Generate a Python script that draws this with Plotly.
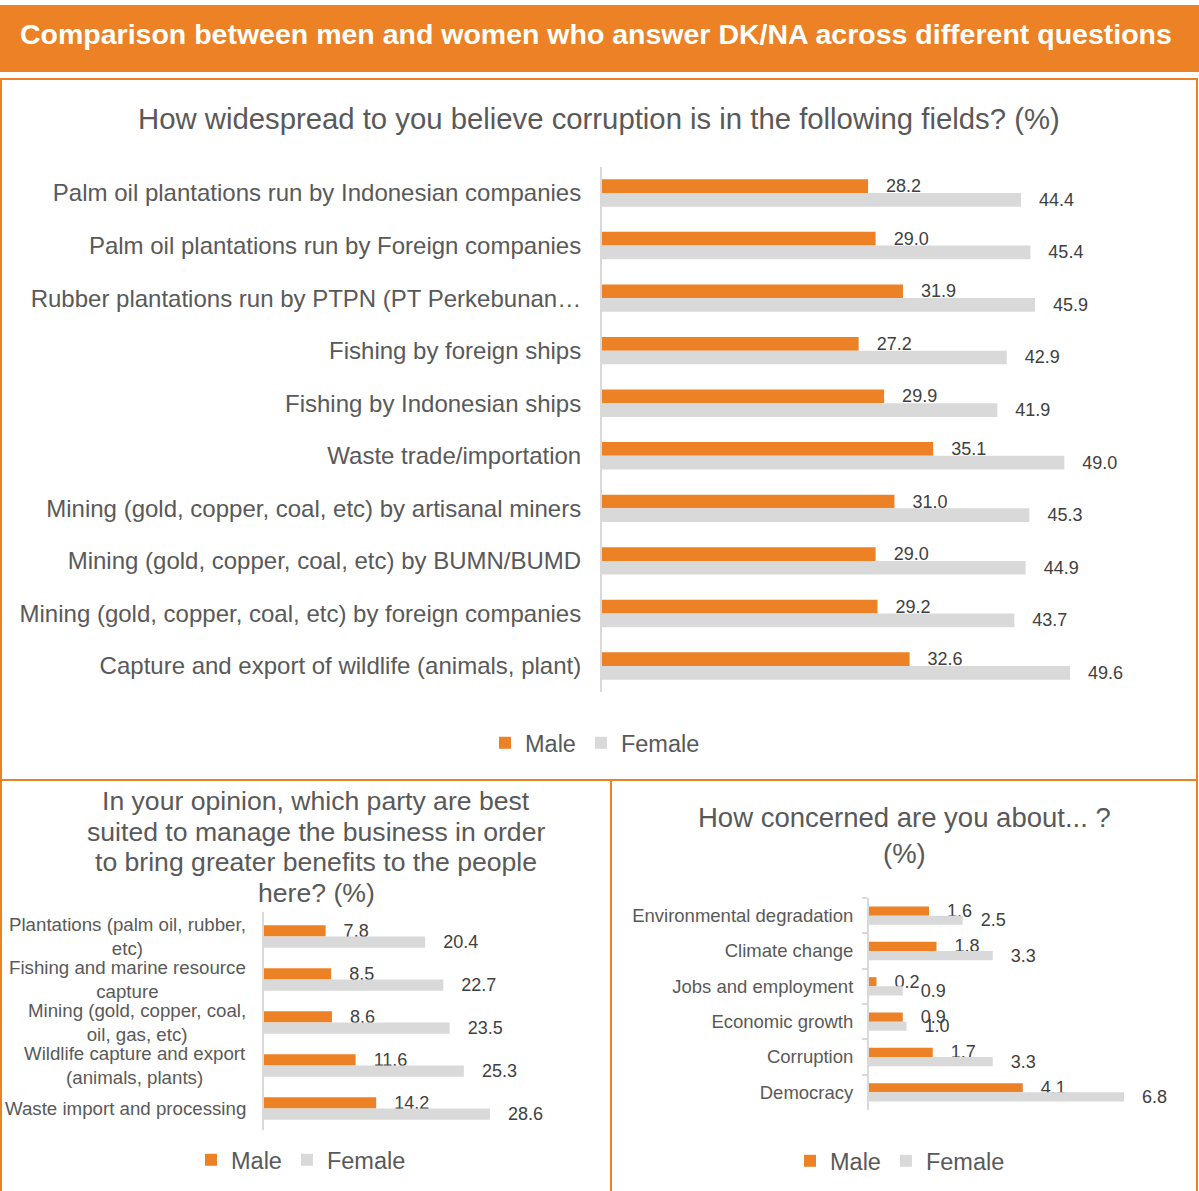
import plotly.graph_objects as go

W, H = 1199, 1191
ORANGE = "#EC8225"
GREY = "#D9D9D9"
TXT = "#595959"
VAL = "#404040"
FONT = "Liberation Sans, Arial, sans-serif"

# ---------------- data ----------------
q1_categories = [
    "Palm oil plantations run by Indonesian companies",
    "Palm oil plantations run by Foreign companies",
    "Rubber plantations run by PTPN (PT Perkebunan\u2026",
    "Fishing by foreign ships",
    "Fishing by Indonesian ships",
    "Waste trade/importation",
    "Mining (gold, copper, coal, etc) by artisanal miners",
    "Mining (gold, copper, coal, etc) by BUMN/BUMD",
    "Mining (gold, copper, coal, etc) by foreign companies",
    "Capture and export of wildlife (animals, plant)",
]
q1_male = [28.2, 29.0, 31.9, 27.2, 29.9, 35.1, 31.0, 29.0, 29.2, 32.6]
q1_female = [44.4, 45.4, 45.9, 42.9, 41.9, 49.0, 45.3, 44.9, 43.7, 49.6]

q2_categories = [
    "Plantations (palm oil, rubber,<br>etc)",
    "Fishing and marine resource<br>capture",
    "Mining (gold, copper, coal,<br>oil, gas, etc)",
    "Wildlife capture and export<br>(animals, plants)",
    "Waste import and processing",
]
q2_male = [7.8, 8.5, 8.6, 11.6, 14.2]
q2_female = [20.4, 22.7, 23.5, 25.3, 28.6]

q3_categories = [
    "Environmental degradation",
    "Climate change",
    "Jobs and employment",
    "Economic growth",
    "Corruption",
    "Democracy",
]
q3_male = [1.6, 1.8, 0.2, 0.9, 1.7, 4.1]
q3_female = [2.5, 3.3, 0.9, 1.0, 3.3, 6.8]

series_names = ["Male", "Female"]

title_main = "Comparison between men and women who answer DK/NA across different questions"
title_q1 = "How widespread to you believe corruption is in the following fields? (%)"
title_q2_lines = [
    "In your opinion, which party are best",
    "suited to manage the business in order",
    "to bring greater benefits to the people",
    "here? (%)",
]
title_q3 = "How concerned are you about... ?<br>(%)"


def px(x):
    return x / W


def py(y):
    return 1 - y / H


fig = go.Figure()

panels = [
    (q1_categories, q1_male, q1_female, "x", "y", "legend"),
    (q2_categories, q2_male, q2_female, "x2", "y2", "legend2"),
    (q3_categories, q3_male, q3_female, "x3", "y3", "legend3"),
]
for cats, male, female, xa, ya, lg in panels:
    for name, vals, col in [(series_names[0], male, ORANGE), (series_names[1], female, GREY)]:
        fig.add_trace(go.Bar(
            x=vals, y=cats, name=name, orientation="h",
            marker=dict(color=col, line=dict(width=0)),
            xaxis=xa, yaxis=ya, legend=lg,
            texttemplate="\u00a0\u00a0\u00a0%{x:.1f}", textposition="outside",
            textangle=0, constraintext="none", cliponaxis=False,
            textfont=dict(size=18, color=VAL, family=FONT),
            hoverinfo="x+y+name",
        ))

hidden_x = dict(showgrid=False, zeroline=False, showline=False, showticklabels=False, ticks="")
leg_common = dict(orientation="h", xanchor="left", yanchor="middle",
                  font=dict(size=23.5, color=TXT), bgcolor="rgba(0,0,0,0)",
                  traceorder="normal")

fig.update_layout(
    width=W, height=H,
    margin=dict(l=0, r=0, t=0, b=0),
    paper_bgcolor="white", plot_bgcolor="white",
    font=dict(family=FONT, color=TXT),
    barmode="group", bargap=0.48, bargroupgap=0,
    xaxis=dict(domain=[px(602), px(1185)], range=[0, 583 / 9.435], anchor="y", **hidden_x),
    yaxis=dict(domain=[py(692.3), py(166.7)], anchor="x", autorange="reversed",
               showline=True, linecolor=GREY, linewidth=2, ticks="", showgrid=False,
               tickfont=dict(size=24, color=TXT), ticklabelstandoff=14),
    xaxis2=dict(domain=[px(264), px(600)], range=[0, 336 / 7.9], anchor="y2", **hidden_x),
    yaxis2=dict(domain=[py(1130), py(912)], anchor="x2", autorange="reversed",
                showline=True, linecolor=GREY, linewidth=2, ticks="", showgrid=False,
                showticklabels=False),
    xaxis3=dict(domain=[px(869), px(1190)], range=[0, 321 / 37.5], anchor="y3", **hidden_x),
    yaxis3=dict(domain=[py(1110), py(898)], anchor="x3", autorange="reversed",
                showline=True, linecolor=GREY, linewidth=2, ticks="outside",
                tickson="boundaries", ticklen=5, tickcolor=GREY, tickwidth=2, showgrid=False,
                tickfont=dict(size=18.5, color=TXT), ticklabelstandoff=10),
    legend=dict(x=px(485), y=py(743), **leg_common),
    legend2=dict(x=px(191), y=py(1160), **leg_common),
    legend3=dict(x=px(790), y=py(1161), **leg_common),
)

shapes = [
    dict(type="rect", xref="paper", yref="paper", x0=0, x1=1, y0=py(72), y1=py(5),
         fillcolor=ORANGE, line=dict(width=0), layer="below"),
    dict(type="rect", xref="paper", yref="paper", x0=px(1), x1=px(1197), y0=py(780), y1=py(79),
         line=dict(color=ORANGE, width=2), layer="above"),
    dict(type="rect", xref="paper", yref="paper", x0=px(1), x1=px(611), y0=py(1200), y1=py(780),
         line=dict(color=ORANGE, width=2), layer="above"),
    dict(type="rect", xref="paper", yref="paper", x0=px(611), x1=px(1197), y0=py(1200), y1=py(780),
         line=dict(color=ORANGE, width=2), layer="above"),
]
fig.update_layout(shapes=shapes)

annotations = [
    dict(text="<b>" + title_main + "</b>", x=px(596), y=py(34), xref="paper", yref="paper",
         showarrow=False, xanchor="center", yanchor="middle",
         font=dict(size=28.5, color="white", family=FONT)),
    dict(text=title_q1, x=px(599), y=py(118), xref="paper", yref="paper",
         showarrow=False, xanchor="center", yanchor="middle", font=dict(size=29.3, color=TXT)),
    dict(text=title_q3, x=px(904), y=py(835), xref="paper", yref="paper", align="center",
         showarrow=False, xanchor="center", yanchor="middle", font=dict(size=27.5, color=TXT)),
]
for i, line in enumerate(title_q2_lines):
    annotations.append(dict(text=line, x=px(316), y=py(801 + 30.7 * i), xref="paper", yref="paper",
                            showarrow=False, xanchor="center", yanchor="middle",
                            font=dict(size=26.6, color=TXT)))
for c in q2_categories:
    annotations.append(dict(text=c, x=px(248), y=c, xref="paper", yref="y2", align="center",
                            showarrow=False, xanchor="right", yanchor="middle",
                            font=dict(size=18.7, color=TXT)))
fig.update_layout(annotations=annotations)

fig.write_html("out.html", config={"displayModeBar": False},
               post_script="document.body.style.margin='0';")
